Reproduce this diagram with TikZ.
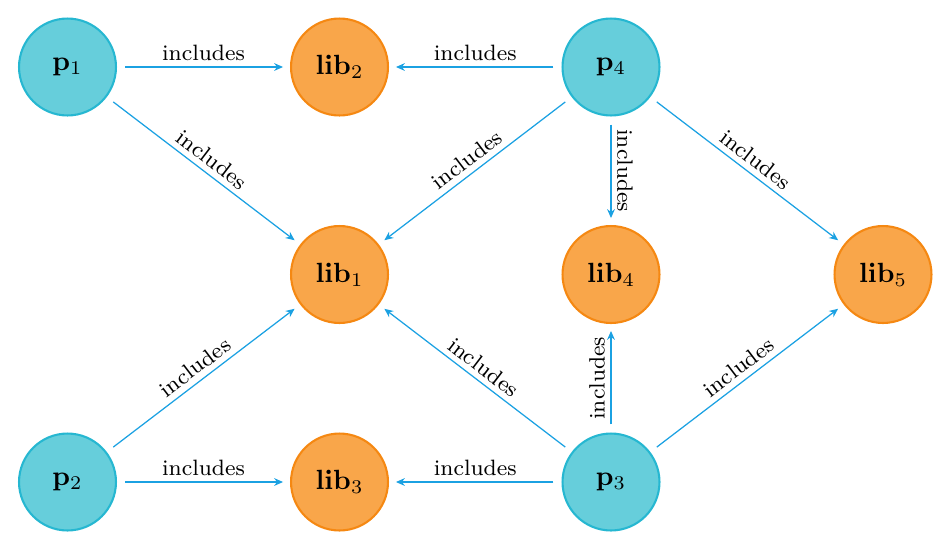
\documentclass[tikz,border=0pt]{standalone}
\usetikzlibrary{arrows.meta}
\definecolor{edgeblue}{RGB}{27,161,226}
\definecolor{pfill}{RGB}{102,206,219}
\definecolor{pdraw}{RGB}{38,183,209}
\definecolor{lfill}{RGB}{249,166,74}
\definecolor{ldraw}{RGB}{245,136,18}
\tikzset{
  pnode/.style={circle, fill=pfill, draw=pdraw, line width=0.75pt, minimum size=34.9pt, inner sep=0pt},
  lnode/.style={circle, fill=lfill, draw=ldraw, line width=0.75pt, minimum size=34.9pt, inner sep=0pt},
  inc/.style={draw=edgeblue, line width=0.45pt, -{Stealth[length=3.2pt,width=2.8pt]}, shorten <=2.9pt, shorten >=2.5pt},
  lab/.style={font=\footnotesize, midway, above, sloped, inner sep=2pt}
}
\begin{document}
\begin{tikzpicture}[x=0.36pt,y=-0.36pt]
\useasboundingbox (0,0) rectangle (951,552);
\node[pnode] (p1) at (67.5,67) {$\mathbf{p}_1$};
\node[lnode] (lib2) at (339.5,67) {$\mathbf{lib}_2$};
\node[pnode] (p4) at (611,67) {$\mathbf{p}_4$};
\node[lnode] (lib1) at (339.5,274.5) {$\mathbf{lib}_1$};
\node[lnode] (lib4) at (611,274.5) {$\mathbf{lib}_4$};
\node[lnode] (lib5) at (883,274.5) {$\mathbf{lib}_5$};
\node[pnode] (p2) at (67.5,482) {$\mathbf{p}_2$};
\node[lnode] (lib3) at (339.5,482) {$\mathbf{lib}_3$};
\node[pnode] (p3) at (611,482) {$\mathbf{p}_3$};

\draw[inc] (p1) -- node[lab] {includes} (lib2);
\draw[inc] (p1) -- node[lab] {includes} (lib1);
\draw[inc] (p4) -- node[lab] {includes} (lib2);
\draw[inc] (p4) -- node[lab] {includes} (lib1);
\draw[inc] (p4) -- node[lab] {includes} (lib4);
\draw[inc] (p4) -- node[lab] {includes} (lib5);
\draw[inc] (p2) -- node[lab] {includes} (lib1);
\draw[inc] (p2) -- node[lab] {includes} (lib3);
\draw[inc] (p3) -- node[lab] {includes} (lib1);
\draw[inc] (p3) -- node[lab] {includes} (lib3);
\draw[inc] (p3) -- node[lab] {includes} (lib4);
\draw[inc] (p3) -- node[lab] {includes} (lib5);
\end{tikzpicture}
\end{document}
